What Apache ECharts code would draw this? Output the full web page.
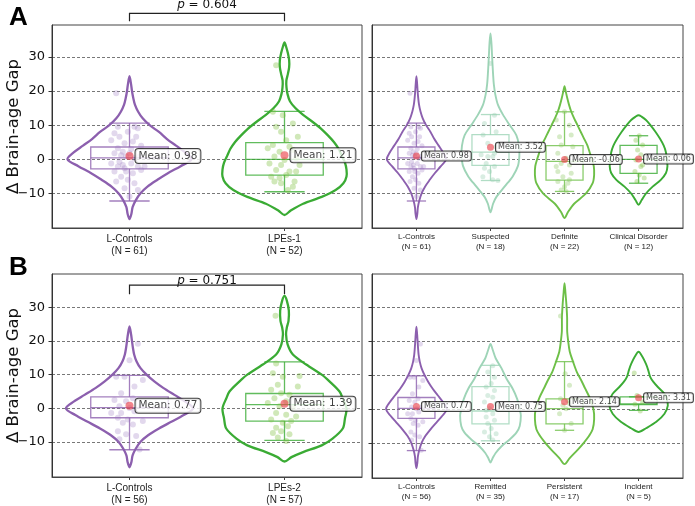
<!DOCTYPE html>
<html>
<head>
<meta charset="utf-8">
<script src="https://cdn.jsdelivr.net/npm/echarts@6/dist/echarts.min.js"></script>
<style>html,body{margin:0;padding:0;background:#fff}#chart{width:695px;height:506px}</style>
</head>
<body>
<div id="chart"></div>
<script>
// groups per panel
var namesA1 = ['L-Controls', 'LPEs-1'];
var countsA1 = [61, 52];
var namesA2 = ['L-Controls', 'Suspected', 'Definite', 'Clinical Disorder'];
var countsA2 = [61, 18, 22, 12];
var namesB1 = ['L-Controls', 'LPEs-2'];
var countsB1 = [56, 57];
var namesB2 = ['L-Controls', 'Remitted', 'Persistent', 'Incident'];
var countsB2 = [56, 35, 17, 5];

var yTicks = [-10, 0, 10, 20, 30];

// violin outlines: [value, half width]
var violinCtrlA = [[-17.5,0],[-16,0.012],[-14,0.02],[-12,0.04],[-10,0.07],[-8,0.116],[-6,0.18],[-4,0.25],[-2,0.33],[0,0.40],[2,0.36],[4,0.30],[6,0.24],[8,0.19],[10,0.13],[12,0.085],[14,0.055],[16,0.035],[18,0.024],[20,0.016],[22,0.01],[24.3,0]];
var violinLpes1 = [[-16.3,0],[-15,0.04],[-13,0.12],[-11,0.24],[-9,0.33],[-7,0.38],[-5,0.40],[-3,0.40],[-1,0.39],[1,0.37],[3,0.35],[5,0.32],[7,0.28],[9,0.235],[11,0.18],[13,0.12],[15,0.07],[17,0.035],[19,0.02],[21,0.013],[23,0.012],[25,0.022],[27,0.03],[29,0.03],[31,0.022],[33,0.01],[34.2,0]];
var violinSusp = [[-15.5,0],[-13,0.035],[-11,0.08],[-8,0.19],[-5,0.30],[-2,0.37],[1,0.39],[4,0.385],[7,0.35],[10,0.26],[13,0.17],[16,0.1],[19,0.065],[22,0.045],[25,0.035],[28,0.027],[31,0.02],[34,0.013],[36.8,0]];
var violinDef = [[-17.2,0],[-15.5,0.045],[-13,0.13],[-10,0.29],[-7,0.38],[-4.5,0.40],[-2,0.395],[0,0.37],[2,0.34],[4,0.31],[6,0.265],[8,0.22],[10,0.175],[12,0.13],[14,0.09],[16,0.06],[18,0.036],[20,0.015],[21.4,0]];
var violinClin = [[-13.3,0],[-12,0.04],[-10,0.1],[-8,0.19],[-6,0.3],[-4,0.37],[-2,0.39],[0,0.38],[2,0.37],[4,0.34],[6,0.29],[8,0.23],[10,0.16],[11.5,0.1],[12.5,0.04],[12.9,0]];
var violinCtrlB = [[-17.5,0],[-16,0.012],[-14,0.02],[-12,0.04],[-10,0.07],[-8,0.12],[-6,0.19],[-4,0.27],[-2,0.35],[0,0.41],[2,0.36],[4,0.29],[6,0.22],[8,0.16],[10,0.11],[12,0.07],[14,0.045],[16,0.03],[18,0.022],[20,0.016],[22,0.01],[24.3,0]];
var violinLpes2 = [[-15.8,0],[-14.5,0.045],[-13,0.12],[-11,0.24],[-9,0.31],[-6,0.376],[-3,0.39],[0,0.40],[3,0.375],[5,0.355],[8,0.29],[10,0.24],[13,0.14],[16,0.054],[19,0.02],[22,0.01],[24,0.015],[26,0.026],[29,0.028],[32,0.015],[33.4,0]];
var violinRemit = [[-15.8,0],[-14.5,0.03],[-13,0.07],[-11,0.15],[-9,0.26],[-7,0.35],[-5,0.395],[-2,0.41],[0,0.395],[3,0.36],[6,0.30],[9,0.215],[12,0.15],[15,0.07],[17.5,0.03],[19.2,0]];
var violinPers = [[-16.3,0],[-14.6,0.067],[-12,0.18],[-10,0.26],[-8,0.33],[-6,0.38],[-3,0.40],[0,0.39],[3.5,0.336],[6,0.28],[8.5,0.225],[11,0.165],[14.3,0.11],[17,0.07],[20,0.05],[23,0.036],[27,0.035],[31,0.025],[34.5,0.012],[37.2,0]];
var violinInc = [[-6.8,0],[-5.7,0.1],[-3.8,0.24],[-1.4,0.35],[1,0.395],[3,0.38],[4.5,0.35],[6.5,0.26],[8,0.2],[9.5,0.157],[11.5,0.13],[13.3,0.10],[15.5,0.05],[16.9,0]];

// box stats: [low whisker, q1, median, q3, high whisker]
var boxCtrlA = [-12.2, -2.8, 0.4, 3.6, 10.6];
var boxLpes1 = [-9.5, -4.6, 0, 4.9, 14.0];
var boxSusp = [-6.2, -1.8, 2.1, 7.2, 13.1];
var boxDef = [-9.4, -6.1, -0.6, 4.0, 13.9];
var boxClin = [-7.0, -4.1, 0, 4.1, 6.9];
var boxCtrlB = [-12.3, -2.8, 0.2, 3.4, 9.8];
var boxLpes2 = [-9.5, -3.8, 1.1, 4.4, 13.8];
var boxRemit = [-9.4, -4.4, -0.6, 6.6, 12.9];
var boxPers = [-6.3, -4.4, 0.1, 3.0, 14.0];
var boxInc = [-0.4, 1.3, 1.5, 3.6, 3.6];

var meansA1 = [0.98, 1.21];
var meansA2 = [0.98, 3.52, -0.06, 0.06];
var meansB1 = [0.77, 1.39];
var meansB2 = [0.77, 0.75, 2.14, 3.31];

// individual points: [jitter, value]
var ptsCtrlA = [[-0.086,19.3],[-0.075,9.5],[0.032,9.5],[0.054,9.1],[-0.097,7.6],[-0.011,8.1],[-0.065,6.6],[0.043,6.6],[-0.118,5.6],[-0.032,4.7],[0.022,5.2],[-0.075,3.2],[-0.043,2.2],[-0.097,1.8],[0,1.8],[-0.022,0.8],[0.032,0.3],[0.065,0.8],[-0.065,-0.7],[-0.118,-1.2],[0.011,-1.2],[-0.075,-2.1],[-0.043,-1.7],[0.054,-2.1],[0.097,-2.1],[-0.097,-3.6],[-0.022,-3.6],[0.022,-4.1],[0.075,-3.1],[-0.054,-5.1],[-0.011,-6.0],[-0.086,-6.5],[0.032,-7.0],[-0.032,-8.5],[0.054,-9.0],[0,-10.9],[-0.054,1.2],[0.011,3.0],[-0.032,-2.6],[0.075,4.0]];
var ptsLpes1 = [[-0.054,27.5],[-0.075,13.9],[-0.011,12.9],[0.054,10.5],[-0.054,9.5],[-0.022,8.1],[0.086,6.6],[0.011,5.6],[-0.075,4.2],[0.032,3.7],[-0.108,3.2],[-0.032,2.2],[0.054,2.7],[-0.065,0.8],[0,-0.2],[0.075,0.3],[-0.097,-1.2],[-0.022,-1.7],[0.097,-1.7],[-0.054,-3.1],[0.032,-3.6],[0.075,-3.6],[-0.086,-5.1],[-0.032,-5.5],[0.011,-4.6],[-0.065,-6.5],[0.065,-6.5],[-0.022,-7.0],[0.054,-8.0],[0.022,-9.0]];
var ptsSusp = [[0,28.0],[0.054,12.9],[-0.081,10.5],[0.076,8.1],[-0.1,7.1],[-0.036,4.7],[0.076,3.7],[-0.126,1.3],[0.031,0.8],[-0.058,-1.2],[0.054,-2.1],[-0.081,-2.6],[-0.013,-3.6],[-0.103,-5.1],[0.031,-6.0],[0.1,-6.2],[-0.036,0.8],[0.054,1.8]];
var ptsDef = [[0,13.9],[-0.112,11.5],[0.067,10.0],[-0.067,6.6],[0.09,7.1],[-0.045,4.2],[0.112,3.7],[-0.09,1.8],[0.022,0.3],[-0.045,-1.2],[0.067,-1.7],[-0.09,-3.6],[0.09,-4.1],[-0.022,-5.1],[0.067,-6.0],[-0.09,-6.5],[0.045,-7.0],[-0.045,-9.0],[0.022,-9.4],[-0.112,-2.1],[0.135,-0.7],[0,-8.0]];
var ptsClin = [[0.009,6.9],[-0.036,5.6],[0.054,4.2],[-0.013,2.7],[0.031,1.3],[-0.036,-0.2],[0.054,-1.7],[-0.049,-3.6],[0.009,-4.6],[0.076,-5.5],[-0.022,-6.5],[0.031,-2.1]];
var ptsCtrlB = [[0.054,19.2],[0,14.3],[-0.086,9.4],[-0.032,9.4],[0.086,8.4],[0.032,6.5],[-0.054,4.5],[-0.097,2.5],[-0.022,2.1],[0.022,3.0],[-0.065,0.6],[0,0.1],[-0.054,-1.4],[0.032,-0.9],[-0.075,-2.8],[-0.011,-3.3],[0.086,-3.8],[-0.043,-4.3],[0.022,-4.8],[-0.075,-6.8],[-0.022,-7.7],[-0.065,-9.2],[0.043,-8.2],[0.065,-12.2],[-0.118,-1.4],[0.075,0.6]];
var ptsLpes2 = [[-0.058,27.5],[-0.054,13.3],[-0.075,10.4],[-0.011,9.4],[0.097,9.6],[-0.043,7.0],[0.086,6.5],[-0.086,5.5],[-0.022,4.5],[0.032,4.0],[-0.065,3.0],[0.011,2.1],[-0.108,1.6],[-0.032,0.6],[0.054,0.1],[-0.054,-1.4],[0.011,-1.9],[0.075,-2.4],[-0.086,-3.3],[-0.011,-4.3],[0.043,-3.8],[-0.054,-5.8],[0.022,-5.3],[-0.075,-7.3],[-0.022,-6.8],[0.032,-7.7],[-0.043,-8.7],[0.011,-9.7]];
var ptsRemit = [[0.031,12.8],[-0.036,10.9],[0.054,9.4],[0.009,7.5],[-0.058,6.5],[0.054,5.5],[-0.036,4.0],[0.031,3.5],[-0.081,2.1],[0.076,1.6],[-0.013,0.1],[0.031,-1.4],[-0.058,-2.4],[0.054,-3.3],[-0.036,-4.3],[0.009,-5.8],[-0.081,-6.8],[0.076,-7.3],[-0.013,-8.2],[0.031,-9.2],[-0.058,-0.4],[0.1,0.6]];
var ptsPers = [[-0.054,27.5],[0.009,10.4],[0.067,7.0],[-0.054,3.0],[0.045,2.5],[-0.022,1.1],[0.067,1.6],[-0.067,-1.4],[0.09,-4.3],[0,-6.3],[0.022,0.1]];
var ptsInc = [[-0.058,10.6],[-0.022,4.0],[0.054,2.1],[-0.049,1.4],[0.022,-0.6]];

// significance brackets: [x1, x2, tick end, bar, text]
var bracketA = [0, 1, 40.4, 42.7, 45.1];
var bracketB = [0, 1, 33.9, 36.6, 38.0];
var pValueA = '0.604';
var pValueB = '0.751';

var purple = '#8c5fae', green = '#3aab34', mint = '#9ed4b7', midGreen = '#6dbf47';
var purplePt = 'rgba(150,115,190,0.35)', greenPt = 'rgba(125,190,60,0.45)', mintPt = 'rgba(150,205,175,0.45)', midPt = 'rgba(140,200,100,0.45)';

var panels = [
  {grid: {left: 52, top: 25, width: 310, height: 203}, xMin: -0.5, xMax: 1.5, yMin: -20.1, yMax: 39.3, left: true,
   names: namesA1, counts: countsA1, violins: [violinCtrlA, violinLpes1], boxes: [boxCtrlA, boxLpes1], means: meansA1,
   pts: [ptsCtrlA, ptsLpes1], colors: [purple, green], ptColors: [purplePt, greenPt], bracket: bracketA, p: pValueA},
  {grid: {left: 372, top: 25, width: 311, height: 203}, xMin: -0.6, xMax: 3.6, yMin: -20.1, yMax: 39.3, left: false,
   names: namesA2, counts: countsA2, violins: [violinCtrlA, violinSusp, violinDef, violinClin], boxes: [boxCtrlA, boxSusp, boxDef, boxClin], means: meansA2,
   pts: [ptsCtrlA, ptsSusp, ptsDef, ptsClin], colors: [purple, mint, midGreen, green], ptColors: [purplePt, mintPt, midPt, greenPt]},
  {grid: {left: 52, top: 274, width: 310, height: 204}, xMin: -0.5, xMax: 1.5, yMin: -20.4, yMax: 39.9, left: true,
   names: namesB1, counts: countsB1, violins: [violinCtrlB, violinLpes2], boxes: [boxCtrlB, boxLpes2], means: meansB1,
   pts: [ptsCtrlB, ptsLpes2], colors: [purple, green], ptColors: [purplePt, greenPt], bracket: bracketB, p: pValueB},
  {grid: {left: 372, top: 274, width: 311, height: 204}, xMin: -0.6, xMax: 3.6, yMin: -20.4, yMax: 39.9, left: false,
   names: namesB2, counts: countsB2, violins: [violinCtrlB, violinRemit, violinPers, violinInc], boxes: [boxCtrlB, boxRemit, boxPers, boxInc], means: meansB2,
   pts: [ptsCtrlB, ptsRemit, ptsPers, ptsInc], colors: [purple, mint, midGreen, green], ptColors: [purplePt, mintPt, midPt, greenPt]}
];

var grids = [], xAxes = [], yAxes = [], series = [];

panels.forEach(function (p, g) {
  var cats = p.names.map(function (n, i) { return i; });
  grids.push(Object.assign({show: true, borderColor: '#444', borderWidth: 1, backgroundColor: '#fff'}, p.grid));
  xAxes.push({
    gridIndex: g, type: 'value', min: p.xMin, max: p.xMax,
    axisLine: {show: true, onZero: false, lineStyle: {color: '#444'}},
    axisTick: {show: true, customValues: cats, length: 3, lineStyle: {color: '#444'}},
    axisLabel: {
      customValues: cats, margin: p.left ? 5 : 4, color: '#222',
      fontFamily: 'Liberation Sans', fontSize: p.left ? 10 : 8, lineHeight: p.left ? 12 : 10,
      formatter: function (v) { var i = Math.round(v); return p.names[i] + '\n(N = ' + p.counts[i] + ')'; }
    },
    splitLine: {show: false}
  });
  yAxes.push({
    gridIndex: g, type: 'value', min: p.yMin, max: p.yMax,
    axisLine: {show: true, onZero: false, lineStyle: {color: '#333'}},
    axisTick: {show: true, customValues: yTicks, length: 3.5, lineStyle: {color: '#333'}},
    axisLabel: {
      show: p.left, customValues: yTicks, margin: 7, color: '#111', fontFamily: 'DejaVu Sans', fontSize: 13,
      formatter: function (v) { return v < 0 ? '\u2212' + Math.abs(v) : String(v); }
    },
    splitLine: {show: true, lineStyle: {color: '#555', type: [3, 2], width: 0.8}},
    name: p.left ? 'Δ Brain-age Gap' : '', nameLocation: 'middle', nameGap: 30, nameMoveOverlap: false,
    nameTextStyle: {fontFamily: 'DejaVu Sans', fontSize: 16.5, color: '#111'}
  });

  var lw = p.left ? 2.3 : 1.9;
  var big = p.left;
  // violins + boxes
  series.push({
    type: 'custom', xAxisIndex: g, yAxisIndex: g, clip: false, silent: true, z: 2,
    data: cats.map(function (i) { return [i]; }),
    renderItem: function (params, api) {
      var i = api.value(0);
      var prof = p.violins[i], b = p.boxes[i], col = p.colors[i];
      var pts = [];
      prof.forEach(function (q) { pts.push(api.coord([i - q[1], q[0]])); });
      for (var k = prof.length - 2; k >= 1; k--) pts.push(api.coord([i + prof[k][1], prof[k][0]]));
      var bw = 0.25, cw = 0.13;
      var c = function (x, y) { return api.coord([x, y]); };
      var lo = c(i, b[0]), q1l = c(i - bw, b[1]), q3r = c(i + bw, b[3]), hi = c(i, b[4]);
      var q1y = q1l[1], q3y = q3r[1];
      var ml = c(i - bw, b[2]), mr = c(i + bw, b[2]);
      var bs = {stroke: col, lineWidth: 1.3, opacity: 0.8, fill: null};
      return {
        type: 'group',
        children: [
          {type: 'polygon', shape: {points: pts, smooth: 0.3}, style: {fill: null, stroke: col, lineWidth: lw}},
          {type: 'rect', shape: {x: q1l[0], y: q3y, width: q3r[0] - q1l[0], height: q1y - q3y}, style: bs},
          {type: 'line', shape: {x1: ml[0], y1: ml[1], x2: mr[0], y2: mr[1]}, style: bs},
          {type: 'line', shape: {x1: hi[0], y1: hi[1], x2: hi[0], y2: q3y}, style: bs},
          {type: 'line', shape: {x1: lo[0], y1: q1y, x2: lo[0], y2: lo[1]}, style: bs},
          {type: 'line', shape: {x1: c(i - cw, 0)[0], y1: hi[1], x2: c(i + cw, 0)[0], y2: hi[1]}, style: bs},
          {type: 'line', shape: {x1: c(i - cw, 0)[0], y1: lo[1], x2: c(i + cw, 0)[0], y2: lo[1]}, style: bs}
        ]
      };
    }
  });
  // points
  var ptData = [];
  p.pts.forEach(function (list, i) {
    list.forEach(function (q) { ptData.push({value: [i + q[0], q[1]], itemStyle: {color: p.ptColors[i]}}); });
  });
  series.push({type: 'scatter', xAxisIndex: g, yAxisIndex: g, silent: true, z: 3, symbolSize: big ? 6 : 5, data: ptData});
  // means
  series.push({
    type: 'scatter', xAxisIndex: g, yAxisIndex: g, silent: true, z: 5, symbolSize: big ? 8 : 7,
    itemStyle: {color: 'rgba(235,65,75,0.8)'},
    data: p.means.map(function (m, i) { return [i, m]; }),
    label: {
      show: true, position: 'right', distance: 2,
      formatter: function (d) { return 'Mean: ' + d.value[1].toFixed(2); },
      fontFamily: 'DejaVu Sans', fontSize: big ? 10.5 : 8, color: '#111',
      backgroundColor: '#fff', borderColor: '#111', borderWidth: 1, borderRadius: big ? 3 : 2,
      padding: big ? [2, 3, 1, 3] : [1, 2, 0, 2]
    }
  });
  if (p.bracket) {
    series.push({
      type: 'custom', xAxisIndex: g, yAxisIndex: g, clip: false, silent: true, z: 6,
      data: [[p.bracket[0], p.bracket[1]]],
      renderItem: function (params, api) {
        var br = p.bracket;
        var a = api.coord([br[0], br[3]]), b2 = api.coord([br[1], br[3]]);
        var at = api.coord([br[0], br[2]]), bt = api.coord([br[1], br[2]]);
        var t = api.coord([(br[0] + br[1]) / 2, br[4]]);
        var s = {stroke: '#222', lineWidth: 1.2, fill: null};
        return {
          type: 'group',
          children: [
            {type: 'polyline', shape: {points: [at, a, b2, bt]}, style: s},
            {type: 'text', x: t[0], y: t[1], style: {
              text: '{i|p} = ' + p.p, align: 'center', verticalAlign: 'middle',
              fontFamily: 'DejaVu Sans', fontSize: 12, fill: '#111',
              rich: {i: {fontStyle: 'italic', fontFamily: 'DejaVu Sans', fontSize: 12, fill: '#111'}}
            }}
          ]
        };
      }
    });
  }
});

var chart = echarts.init(document.getElementById('chart'));
chart.setOption({
  animation: false,
  backgroundColor: '#fff',
  grid: grids,
  xAxis: xAxes,
  yAxis: yAxes,
  series: series,
  graphic: [
    {type: 'text', left: 9, top: 5, style: {text: 'A', font: 'bold 26px "Liberation Sans"', fill: '#000'}},
    {type: 'text', left: 9, top: 255, style: {text: 'B', font: 'bold 26px "Liberation Sans"', fill: '#000'}}
  ]
});
</script>
</body>
</html>
